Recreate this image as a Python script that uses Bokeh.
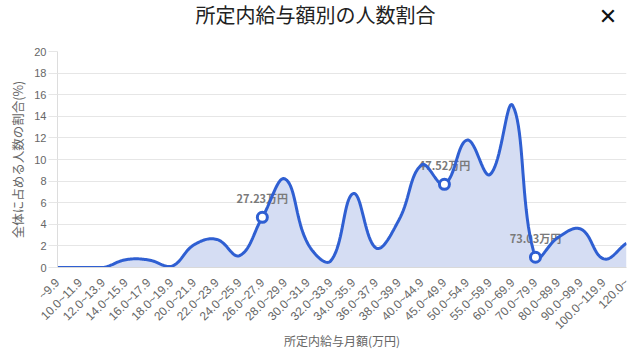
import numpy as np
from bokeh.plotting import figure
from bokeh.layouts import column
from bokeh.models import Range1d, FixedTicker, Div
from bokeh.core.properties import value
from bokeh.embed import file_html
from bokeh.resources import INLINE

# ---- data ----
categories = ["~9.9", "10.0~11.9", "12.0~13.9", "14.0~15.9", "16.0~17.9", "18.0~19.9",
              "20.0~21.9", "22.0~23.9", "24.0~25.9", "26.0~27.9", "28.0~29.9", "30.0~31.9",
              "32.0~33.9", "34.0~35.9", "36.0~37.9", "38.0~39.9", "40.0~44.9", "45.0~49.9",
              "50.0~54.9", "55.0~59.9", "60.0~69.9", "70.0~79.9", "80.0~89.9", "90.0~99.9",
              "100.0~119.9", "120.0~"]
shares = [0.0, 0.0, 0.0, 0.72, 0.7, 0.1, 2.1, 2.6, 1.1, 4.65, 8.2, 2.2, 0.6, 6.85, 1.8,
          4.4, 9.5, 7.7, 11.8, 8.6, 15.0, 0.95, 2.8, 3.55, 0.8, 2.25]
marker_idx = [9, 17, 21]
marker_labels = ["27.23万円", "47.52万円", "73.03万円"]
y_ticks = [0, 2, 4, 6, 8, 10, 12, 14, 16, 18, 20]

title_text = "所定内給与額別の人数割合"
close_text = "✕"
x_title = "所定内給与月額(万円)"
y_title = "全体に占める人数の割合(%)"

LINE = "#2f5fd2"
FILL = "#d5ddf3"
GRID = "#e6e6e6"
TXT = "#666666"

W, H = 631, 360
HEAD_H = 40
FW, FH = 569, 216
YMAX = 20


def smooth(vals, sx, sy, tension=0.4, n=20):
    """Chart.js style bezier smoothing for drawing the line."""
    m = len(vals)
    px = np.arange(m) * sx
    py = np.asarray(vals, dtype=float) * sy
    prev_cp, next_cp = [], []
    for i in range(m):
        i0 = max(i - 1, 0)
        i2 = min(i + 1, m - 1)
        d01 = np.hypot(px[i] - px[i0], py[i] - py[i0])
        d12 = np.hypot(px[i2] - px[i], py[i2] - py[i])
        tot = d01 + d12
        s01 = d01 / tot if tot else 0.0
        s12 = d12 / tot if tot else 0.0
        fa, fb = tension * s01, tension * s12
        dx, dy = px[i2] - px[i0], py[i2] - py[i0]
        pc = [px[i] - fa * dx, py[i] - fa * dy]
        nc = [px[i] + fb * dx, py[i] + fb * dy]
        for c in (pc, nc):
            c[0] = min(max(c[0], 0), (m - 1) * sx)
            c[1] = min(max(c[1], 0), YMAX * sy)
        prev_cp.append(pc)
        next_cp.append(nc)
    xs, ys = [px[0]], [py[0]]
    t = np.linspace(0, 1, n + 1)[1:]
    for i in range(m - 1):
        p0 = np.array([px[i], py[i]])
        p1 = np.array(next_cp[i])
        p2 = np.array(prev_cp[i + 1])
        p3 = np.array([px[i + 1], py[i + 1]])
        for tt in t:
            b = ((1 - tt) ** 3) * p0 + 3 * ((1 - tt) ** 2) * tt * p1 + 3 * (1 - tt) * tt ** 2 * p2 + tt ** 3 * p3
            xs.append(b[0])
            ys.append(b[1])
    return np.array(xs) / sx, np.array(ys) / sy


# ---- header (title + close icon) ----
head_html = (
    f'<div style="position:relative;width:{W}px;height:{HEAD_H}px;margin:0;padding:0;">'
    f'<span style="position:absolute;left:0;top:5px;width:{W}px;text-align:center;'
    f'font-family:\'Noto Sans CJK JP\';font-size:20px;line-height:20px;color:#222222;'
    f'white-space:nowrap;">{title_text}</span>'
    f'<span style="position:absolute;left:596px;top:6px;width:24px;text-align:center;'
    f'font-family:\'DejaVu Sans\';font-weight:bold;font-size:22px;line-height:22px;color:#111111;">'
    f'{close_text}</span></div>'
)
head = Div(text=head_html, width=W, height=HEAD_H, margin=0, styles={"margin": "0", "padding": "0"})

# ---- main chart ----
n = len(categories)
sx = FW / (n - 1)
sy = FH / YMAX
cx, cy = smooth(shares, sx, sy)

p = figure(width=W, height=H - HEAD_H, frame_width=FW, frame_height=FH,
           x_range=Range1d(0, n - 1), y_range=Range1d(0, YMAX),
           output_backend="svg", toolbar_location=None,
           min_border_left=57, min_border_right=W - 57 - FW, min_border_top=51 - HEAD_H,
           min_border_bottom=H - HEAD_H - (51 - HEAD_H) - FH)
p.outline_line_color = None

p.varea(x=cx, y1=np.zeros_like(cy), y2=cy, fill_color=FILL, fill_alpha=1.0)

mx = marker_idx
my = [shares[i] for i in marker_idx]
p.text(x=mx, y=my, text=marker_labels, y_offset=-19, text_align="center", text_baseline="middle",
       text_font=value("Noto Sans CJK JP"), text_font_size="11px", text_color="#7a7a7a",
       text_font_style="bold")

p.line(cx, cy, line_color=LINE, line_width=3)
p.scatter(mx, my, size=10, fill_color="white", line_color=LINE, line_width=3)

# x axis
p.xaxis.ticker = FixedTicker(ticks=list(range(n)))
p.xaxis.major_label_overrides = {i: c for i, c in enumerate(categories)}
p.xaxis.major_label_orientation = np.pi / 4
p.xaxis.major_tick_line_color = None
p.xaxis.minor_tick_line_color = None
p.xaxis.axis_line_color = "#d9d9d9"
p.xaxis.major_label_text_font = "Liberation Sans"
p.xaxis.major_label_text_font_size = "12px"
p.xaxis.major_label_text_color = TXT
p.xaxis.major_label_standoff = 7
p.xaxis.axis_label = x_title
p.xaxis.axis_label_text_font = "Noto Sans CJK JP"
p.xaxis.axis_label_text_font_size = "12px"
p.xaxis.axis_label_text_font_style = "normal"
p.xaxis.axis_label_text_color = TXT
p.xaxis.axis_label_standoff = -8
p.xgrid.visible = False

# y axis
p.yaxis.ticker = FixedTicker(ticks=y_ticks)
p.yaxis.major_tick_out = 9
p.yaxis.major_tick_in = 0
p.yaxis.major_tick_line_color = GRID
p.yaxis.minor_tick_line_color = None
p.yaxis.axis_line_color = "#dddddd"
p.yaxis.major_label_text_font = "Liberation Sans"
p.yaxis.major_label_text_font_size = "11px"
p.yaxis.major_label_text_color = TXT
p.yaxis.major_label_standoff = 2
p.yaxis.axis_label = y_title
p.yaxis.axis_label_text_font = "Noto Sans CJK JP"
p.yaxis.axis_label_text_font_size = "12.5px"
p.yaxis.axis_label_text_font_style = "normal"
p.yaxis.axis_label_text_color = TXT
p.yaxis.axis_label_standoff = 4
p.ygrid.grid_line_color = GRID

layout = column(head, p, spacing=0)
open("out.html", "w").write(file_html(layout, INLINE))
